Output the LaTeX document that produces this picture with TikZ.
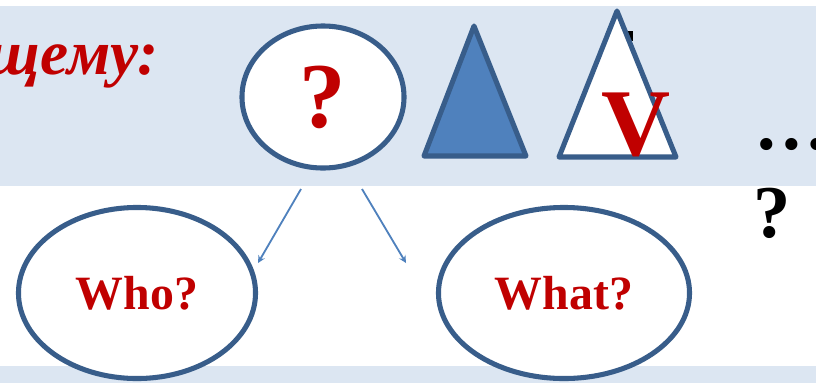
\documentclass[tikz,border=0pt]{standalone}
\usepackage{fontspec}
\setmainfont{Liberation Serif}
\usetikzlibrary{shapes.geometric}
\definecolor{band}{HTML}{DCE6F2}
\definecolor{edge}{HTML}{385D8A}
\definecolor{accent}{HTML}{4F81BD}
\definecolor{wordred}{HTML}{C00000}

\begin{document}
\begin{tikzpicture}[x=0.025cm, y=-0.025cm, every node/.append style={font=\bfseries}]
    \tikzstyle{oval}=[draw=edge,line width=3.6pt,fill=white,shape=ellipse,inner sep=0pt];
    \tikzstyle{tri}=[draw=edge,line width=3.6pt,line join=round];
    \tikzstyle{word}=[text=wordred,inner sep=0pt];
    \tikzstyle{link}=[draw=accent,line width=1.3pt,-stealth];
    \clip (0,0) rectangle (816,383);
    \useasboundingbox (0,0) rectangle (816,383);
    % bands
    \fill[band] (0,6) rectangle (816,186);
    \fill[band] (0,366) rectangle (816,383);
    % heading
    \node[word,anchor=base east,font=\bfseries\itshape\fontsize{45}{45}\selectfont] (head) at (159,74) {щему:};
    % top row
    \node[oval,minimum width=4.05cm,minimum height=3.55cm,font=\bfseries\fontsize{66}{66}\selectfont,text=wordred] (q) at (323,97) {?};
    \path[tri,fill=accent] (474,26) -- (526,156) -- (424,156) -- cycle;
    \fill (624,31) rectangle (633,41);
    \path[tri,fill=white] (617,11) -- (676,157) -- (559,157) -- cycle;
    \node[word,font=\bfseries\fontsize{68}{68}\selectfont] (v) at (636,125) {V};
    \node[anchor=base west,inner sep=0pt,font=\bfseries\fontsize{53}{53}\selectfont] (dots) at (754,149) {…};
    \node[inner sep=0pt,font=\bfseries\fontsize{53}{53}\selectfont] (ask) at (772,213) {?};
    % bottom row
    \node[oval,minimum width=5.925cm,minimum height=4.275cm,font=\bfseries\fontsize{34}{34}\selectfont,text=wordred] (who) at (137,293) {Who?};
    \node[oval,minimum width=6.275cm,minimum height=4.275cm,font=\bfseries\fontsize{34}{34}\selectfont,text=wordred] (what) at (564,293) {What?};
    % arrows
    \coordinate (a1) at (301,189);
    \coordinate (b1) at (258,263);
    \coordinate (a2) at (362,189);
    \coordinate (b2) at (406,263);
    \draw[link] (a1) -- (b1);
    \draw[link] (a2) -- (b2);
\end{tikzpicture}
\end{document}
